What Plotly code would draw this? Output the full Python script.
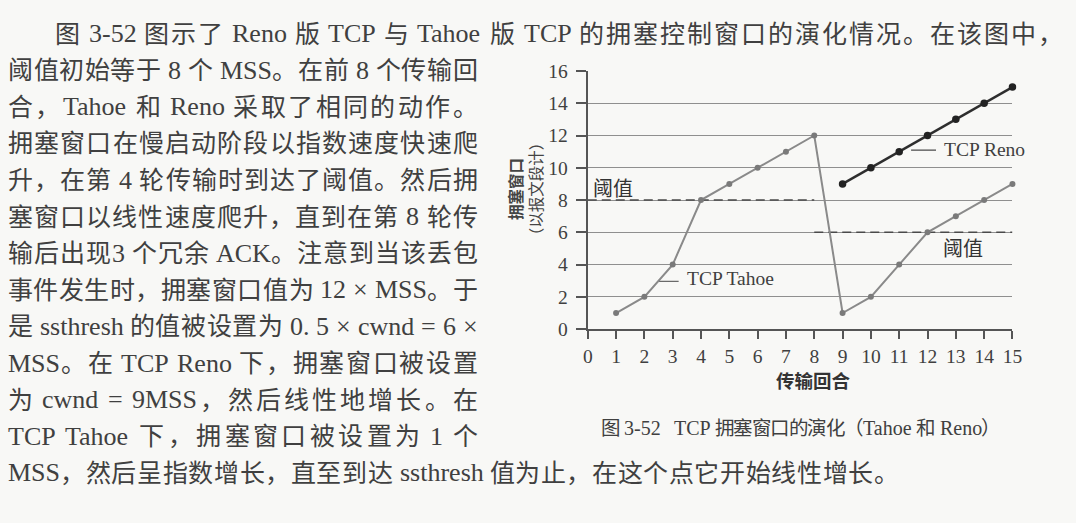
import re
import plotly.graph_objects as go

# ---------------- data ----------------
rounds = list(range(0, 16))
tahoe_rounds = [1, 2, 3, 4, 5, 6, 7, 8, 9, 10, 11, 12, 13, 14, 15]
tahoe_cwnd = [1, 2, 4, 8, 9, 10, 11, 12, 1, 2, 4, 6, 7, 8, 9]
reno_rounds = [9, 10, 11, 12, 13, 14, 15]
reno_cwnd = [9, 10, 11, 12, 13, 14, 15]
thresh1_x = [0, 8]
thresh1_y = [8, 8]
thresh2_x = [8, 15]
thresh2_y = [6, 6]
y_ticks = [0, 2, 4, 6, 8, 10, 12, 14, 16]

body_lines = [
    "图 3-52 图示了 Reno 版 TCP 与 Tahoe 版 TCP 的拥塞控制窗口的演化情况。在该图中，",
    "阈值初始等于 8 个 MSS。在前 8 个传输回",
    "合，Tahoe 和 Reno 采取了相同的动作。",
    "拥塞窗口在慢启动阶段以指数速度快速爬",
    "升，在第 4 轮传输时到达了阈值。然后拥",
    "塞窗口以线性速度爬升，直到在第 8 轮传",
    "输后出现3 个冗余 ACK。注意到当该丢包",
    "事件发生时，拥塞窗口值为 12 × MSS。于",
    "是 ssthresh 的值被设置为 0. 5 × cwnd = 6 ×",
    "MSS。在 TCP Reno 下，拥塞窗口被设置",
    "为 cwnd = 9MSS，然后线性地增长。在",
    "TCP Tahoe 下，拥塞窗口被设置为 1 个",
    "MSS，然后呈指数增长，直至到达 ssthresh 值为止，在这个点它开始线性增长。",
]
caption = "图 3-52   TCP 拥塞窗口的演化（Tahoe 和 Reno）"

# ---------------- page geometry ----------------
W, H = 1076, 523
X0_PX, X15_PX = 591.0, 1021.7
Y0_PX, Y16_PX = 332.5, 63.5
TEXT_COLOR = "#404040"
BG = "#f8f8f6"
CJK_FONT = "Noto Sans CJK SC"
LAT_FONT = "Liberation Serif"

TIMES = {
    ' ': 250, '0': 500, '1': 500, '2': 500, '3': 500, '4': 500, '5': 500,
    '6': 500, '7': 500, '8': 500, '9': 500, '-': 333, '.': 250, '=': 564,
    '×': 564, 'A': 722, 'C': 667, 'K': 722, 'M': 889, 'P': 556, 'R': 667,
    'S': 556, 'T': 611, 'a': 444, 'c': 444, 'd': 500, 'e': 444, 'h': 500,
    'n': 500, 'o': 500, 'r': 333, 's': 389, 't': 278, 'w': 722,
}


def layout_line(text, x_start, x_end, yc, cjk_size, lat_size):
    """Justify one line of mixed CJK / Latin text between two x positions."""
    toks = re.findall(r' +|[\u2E80-\uFFFF]|[^ \u2E80-\uFFFF]+', text)
    items = []
    pending_gap = 0.0
    for t in toks:
        if t.startswith(' '):
            pending_gap += len(t) * 250 * lat_size / 1000.0
            continue
        cjk = bool(re.match(r'[\u2E80-\uFFFF]', t))
        w = cjk_size if cjk else sum(TIMES.get(c, 500) for c in t) * lat_size / 1000.0
        items.append([t, cjk, w, pending_gap if items else 0.0])
        pending_gap = 0.0
    natural = sum(i[2] for i in items) + sum(i[3] for i in items)
    n = len(items)
    extra = (x_end - x_start - natural) / (n - 1) if n > 1 else 0.0
    lat_dy = 0.436 * cjk_size - 0.3375 * lat_size
    anns = []
    x = x_start
    for k, (t, cjk, w, g) in enumerate(items):
        if k > 0:
            x += g + extra
        y_px = yc if cjk else yc + lat_dy
        anns.append(dict(
            text=t, x=x / W, y=1 - y_px / H, xref="paper", yref="paper",
            xanchor="left", yanchor="middle", showarrow=False, borderpad=0,
            font=dict(family=CJK_FONT if cjk else LAT_FONT,
                      size=cjk_size if cjk else lat_size, color=TEXT_COLOR),
        ))
        x += w
    return anns


annotations = []
spans = [(50, 1072)] + [(2, 478)] * 11 + [(2, 905)]
for i, line in enumerate(body_lines):
    yc = 22.5 + 38.13 * i
    annotations += layout_line(line, spans[i][0], spans[i][1], yc, 25, 26)

annotations += layout_line(caption, 603, 1008, 434, 19.5, 20)

fig = go.Figure()

fig.add_trace(go.Scatter(x=thresh1_x, y=thresh1_y, mode="lines",
                         line=dict(color="#4a4a4a", width=1.6, dash="9px,5px"),
                         hoverinfo="skip", cliponaxis=False))
fig.add_trace(go.Scatter(x=thresh2_x, y=thresh2_y, mode="lines",
                         line=dict(color="#4a4a4a", width=1.6, dash="9px,5px"),
                         hoverinfo="skip", cliponaxis=False))
fig.add_trace(go.Scatter(x=tahoe_rounds, y=tahoe_cwnd, mode="lines+markers",
                         line=dict(color="#8a8a8a", width=2),
                         marker=dict(color="#7a7a7a", size=6),
                         cliponaxis=False, name="TCP Tahoe"))
fig.add_trace(go.Scatter(x=reno_rounds, y=reno_cwnd, mode="lines+markers",
                         line=dict(color="#2e2e2e", width=2.4),
                         marker=dict(color="#222222", size=7.5),
                         cliponaxis=False, name="TCP Reno"))
fig.add_trace(go.Scatter(x=[2.52, 3.21], y=[2.96, 2.96], mode="lines",
                         line=dict(color="#6a6a6a", width=1.3), hoverinfo="skip"))
fig.add_trace(go.Scatter(x=[11.42, 12.3], y=[11.09, 11.09], mode="lines",
                         line=dict(color="#4a4a4a", width=1.3), hoverinfo="skip"))

chart_font = dict(family=LAT_FONT, size=19.5, color=TEXT_COLOR)
annotations += [
    dict(text="TCP Tahoe", x=3.48, y=3.12, xref="x", yref="y", xanchor="left",
         yanchor="middle", showarrow=False, font=chart_font, borderpad=0),
    dict(text="TCP Reno", x=12.54, y=11.15, xref="x", yref="y", xanchor="left",
         yanchor="middle", showarrow=False, font=chart_font, borderpad=0),
    dict(text="阈值", x=0.9, y=8.76, xref="x", yref="y", xanchor="center",
         yanchor="middle", showarrow=False, borderpad=0,
         font=dict(family=CJK_FONT, size=20, color="#333333")),
    dict(text="阈值", x=13.24, y=5.06, xref="x", yref="y", xanchor="center",
         yanchor="middle", showarrow=False, borderpad=0,
         font=dict(family=CJK_FONT, size=20, color="#333333")),
    dict(text="<b>传输回合</b>", x=820 / W, y=1 - 385 / H, xref="paper", yref="paper",
         xanchor="center", yanchor="middle", showarrow=False, borderpad=0,
         font=dict(family=CJK_FONT, size=18.5, color="#333333")),
    dict(text="<b>拥塞窗口</b><br>（以报文段计）", x=527 / W, y=1 - 186 / H,
         xref="paper", yref="paper", xanchor="center", yanchor="middle",
         textangle=-90, showarrow=False, borderpad=0,
         font=dict(family=CJK_FONT, size=15.5, color="#444444")),
]

fig.update_layout(
    width=W, height=H, autosize=False,
    margin=dict(l=0, r=0, t=0, b=0, pad=0),
    paper_bgcolor=BG, plot_bgcolor=BG,
    showlegend=False,
    annotations=annotations,
    xaxis=dict(domain=[X0_PX / W, X15_PX / W], range=[0, 15],
               tickmode="array", tickvals=rounds, ticktext=[str(r) for r in rounds],
               ticks="outside", ticklen=8, tickwidth=1.5, tickcolor="#555555",
               showline=True, linecolor="#555555", linewidth=2,
               showgrid=False, zeroline=False, tickfont=chart_font, fixedrange=True),
    yaxis=dict(domain=[1 - Y0_PX / H, 1 - Y16_PX / H], range=[0, 16],
               tickmode="array", tickvals=y_ticks, ticktext=[str(v) for v in y_ticks],
               ticks="outside", ticklen=10, tickwidth=1.5, tickcolor="#555555",
               showline=True, linecolor="#555555", linewidth=2,
               showgrid=True, gridcolor="#8f8f8f", gridwidth=1,
               zeroline=False, tickfont=chart_font, ticklabelstandoff=4,
               fixedrange=True),
)

fig.write_html("out.html")
